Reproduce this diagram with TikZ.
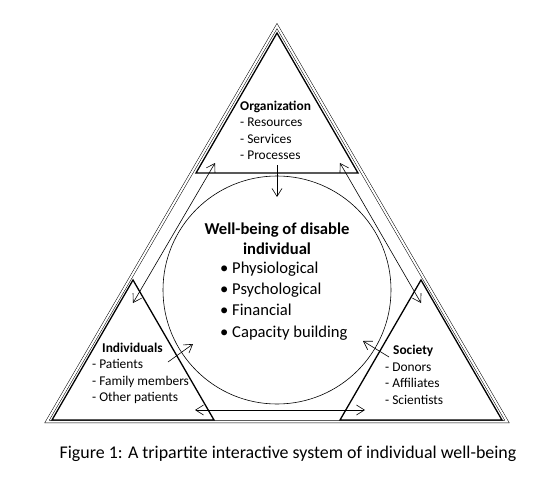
\documentclass[tikz,border=0pt]{standalone}
\usepackage{fontspec}
\setmainfont{Carlito}
\usetikzlibrary{arrows.meta}

\begin{document}
\begin{tikzpicture}[x=1pt,y=-1pt,
  party/.style={draw, line width=1.3pt, line join=miter},
  txt/.style={inner sep=0pt, align=left, font=\fontsize{13.4}{16.5}\selectfont},
  link/.style={line width=0.6pt, {Straight Barb[length=8pt,width=10pt]}-{Straight Barb[length=8pt,width=10pt]}},
  flow/.style={line width=0.6pt, -{Straight Barb[length=8pt,width=10pt]}}]
  \useasboundingbox (0,0) rectangle (555,482);

  % outer frame
  \draw[double, double distance=2pt, line width=0.5pt] (277,26) -- (47,421.5) -- (507,421.5) -- cycle;

  % the three parties
  \def\w{81}
  \def\h{140}
  \coordinate (O) at (277,33);
  \coordinate (I) at (133,280);
  \coordinate (S) at (421,280);
  \draw[party] (O) -- ++(-\w,\h) -- ++(2*\w,0) -- cycle;
  \draw[party] (I) -- ++(-\w,\h) -- ++(2*\w,0) -- cycle;
  \draw[party] (S) -- ++(-\w,\h) -- ++(2*\w,0) -- cycle;

  % the individual in the middle
  \draw[line width=0.6pt] (277,290) circle (114);

  \node[txt, anchor=west] (org) at (240,130.5)
    {\textbf{Organization}\\- Resources\\- Services\\- Processes};
  \node[txt, anchor=west] (ind) at (92,373.5)
    {\hspace*{10pt}\textbf{Individuals}\\- Patients\\- Family members\\- Other patients};
  \node[txt, anchor=west] (soc) at (385,375)
    {\hspace*{8pt}\textbf{Society}\\- Donors\\- Affiliates\\- Scientists};

  \node[inner sep=0pt, align=center, font=\fontsize{16.6}{19.5}\selectfont\bfseries] (wb) at (277,238.5)
    {Well-being of disable\\individual};
  \node[inner sep=0pt, align=left, font=\fontsize{16.6}{21.3}\selectfont, anchor=west] (aspects) at (220,301)
    {\textbullet\ Physiological\\\textbullet\ Psychological\\\textbullet\ Financial\\\textbullet\ Capacity building};

  % interactions
  \coordinate (oi1) at (215,163);
  \coordinate (oi2) at (133,303);
  \coordinate (os1) at (340,163);
  \coordinate (os2) at (421,303);
  \coordinate (is1) at (195,410);
  \coordinate (is2) at (365,410);
  \draw[link] (oi1) -- (oi2);
  \draw[link] (os1) -- (os2);
  \draw[link] (is1) -- (is2);

  \coordinate (o0) at (277,165);
  \coordinate (oc) at (277,197);
  \coordinate (i0) at (168,362);
  \coordinate (ic) at (193,344);
  \coordinate (s0) at (389,357);
  \coordinate (sc) at (363,341);
  \draw[flow] (o0) -- (oc);
  \draw[flow] (i0) -- (ic);
  \draw[flow] (s0) -- (sc);

  \node[inner sep=0pt, font=\fontsize{17.9}{20}\selectfont] (caption) at (288,454)
    {Figure 1: A tripartite interactive system of individual well-being};
\end{tikzpicture}
\end{document}
